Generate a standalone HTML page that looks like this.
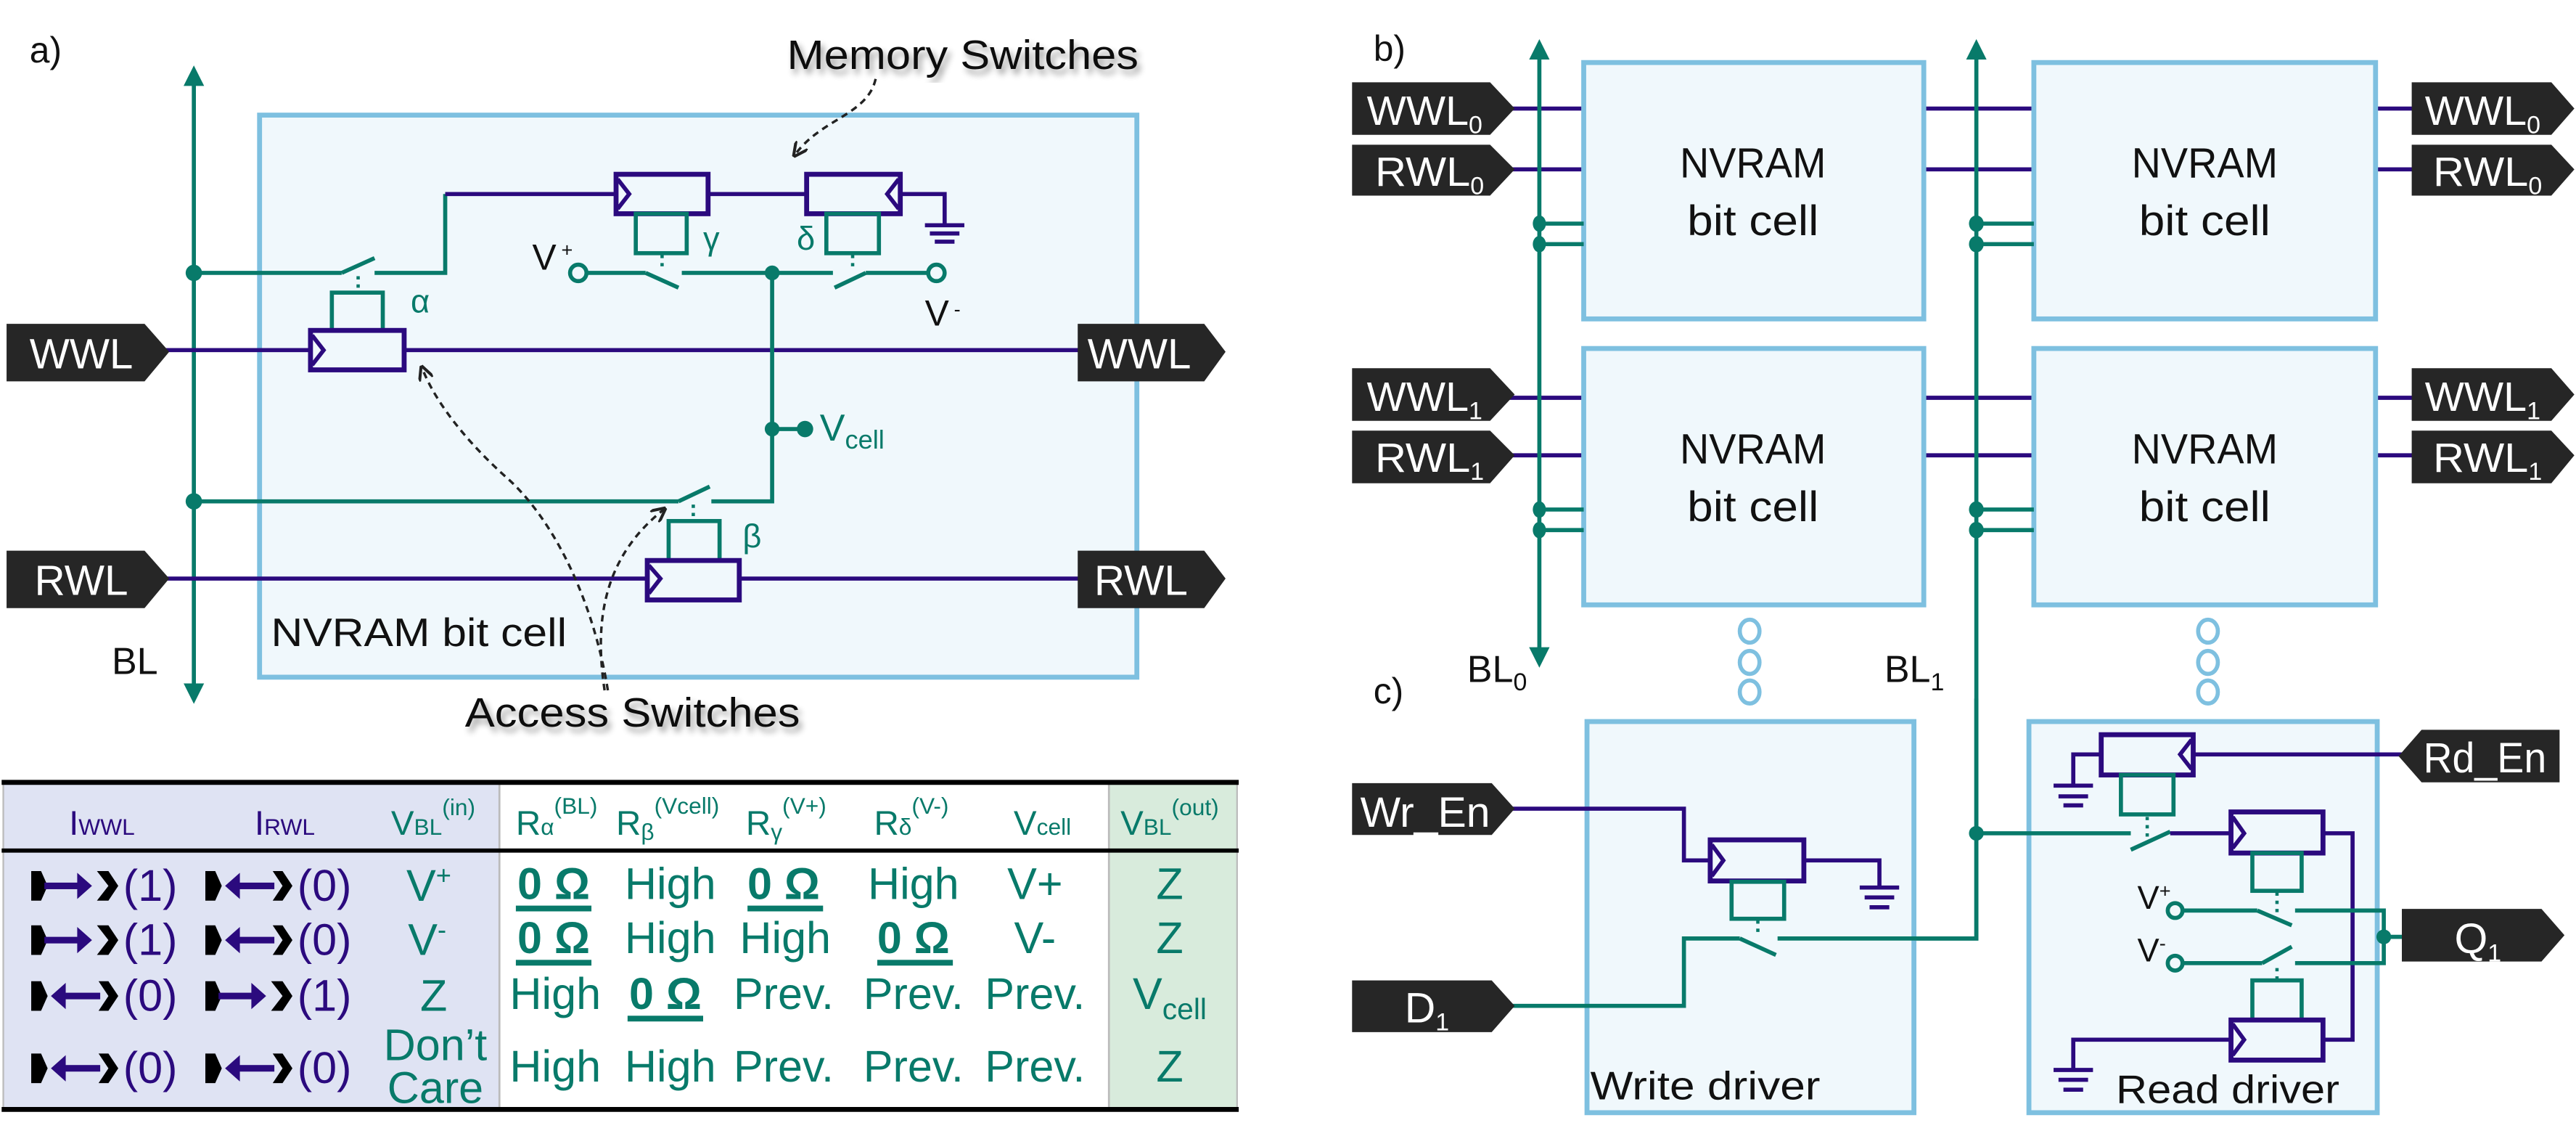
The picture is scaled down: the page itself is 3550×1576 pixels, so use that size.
<!DOCTYPE html>
<html><head><meta charset="utf-8"><style>
html,body{margin:0;padding:0;background:#fff;}
svg{display:block;}
text{font-family:"Liberation Sans Narrow","Liberation Sans",sans-serif;}
</style></head><body>
<svg width="3550" height="1576" viewBox="0 0 1568 696" xmlns="http://www.w3.org/2000/svg">
<defs>
<marker id="ta" viewBox="0 0 10 10" refX="5" refY="5" markerWidth="5" markerHeight="5" orient="auto-start-reverse"><path d="M0,0 L10,5 L0,10 z" fill="#087a6a"/></marker>
<marker id="da" viewBox="0 0 10 10" refX="8" refY="5" markerWidth="6" markerHeight="6" orient="auto"><path d="M0,0 L10,5 L0,10" fill="none" stroke="#222" stroke-width="2"/></marker>
<filter id="sh"><feGaussianBlur in="SourceAlpha" stdDeviation="2"/><feOffset dx="2" dy="3"/><feComponentTransfer><feFuncA type="linear" slope="0.4"/></feComponentTransfer><feMerge><feMergeNode/><feMergeNode in="SourceGraphic"/></feMerge></filter>
</defs>
<g fill="none" stroke-linecap="butt">

<!-- ============ PANEL A ============ -->
<text x="18" y="38" font-size="22" fill="#111" stroke="none">a)</text>
<rect x="158" y="70" width="534" height="342" fill="#f0f8fc" stroke="#7ec0e0" stroke-width="3"/>
<line x1="118" y1="46" x2="118" y2="422" stroke="#087a6a" stroke-width="2.5" marker-start="url(#ta)" marker-end="url(#ta)"/>
<text x="68" y="410" font-size="23" fill="#111" stroke="none">BL</text>
<line x1="100" y1="213" x2="660" y2="213" stroke="#2b0a7e" stroke-width="2.5"/>
<line x1="100" y1="352" x2="660" y2="352" stroke="#2b0a7e" stroke-width="2.5"/>
<polygon points="4,197 88,197 103,214 88,232 4,232" fill="#262626" stroke="none"/>
<text x="18" y="224" font-size="26" fill="#fff" stroke="none" textLength="63" lengthAdjust="spacingAndGlyphs">WWL</text>
<polygon points="656,197 733,197 746,214 733,232 656,232" fill="#262626" stroke="none"/>
<text x="662" y="224" font-size="26" fill="#fff" stroke="none" textLength="63" lengthAdjust="spacingAndGlyphs">WWL</text>
<polygon points="4,335 88,335 103,352 88,370 4,370" fill="#262626" stroke="none"/>
<text x="21" y="362" font-size="26" fill="#fff" stroke="none" textLength="57" lengthAdjust="spacingAndGlyphs">RWL</text>
<polygon points="656,335 733,335 746,352 733,370 656,370" fill="#262626" stroke="none"/>
<text x="666" y="362" font-size="26" fill="#fff" stroke="none" textLength="57" lengthAdjust="spacingAndGlyphs">RWL</text>

<line x1="118" y1="166" x2="208" y2="166" stroke="#087a6a" stroke-width="2.5"/>
<line x1="208" y1="166" x2="228" y2="157" stroke="#087a6a" stroke-width="2.5"/>
<polyline points="228,166 271,166 271,118" stroke="#087a6a" stroke-width="2.5"/>
<polyline points="271,118 375,118" stroke="#2b0a7e" stroke-width="2.5"/>
<line x1="218" y1="168" x2="218" y2="178" stroke="#087a6a" stroke-width="2" stroke-dasharray="2,3"/>
<rect x="202" y="178" width="31" height="23" stroke="#087a6a" stroke-width="2.5"/>
<text x="250" y="190" font-size="20" fill="#087a6a" stroke="none">α</text>
<rect x="189" y="201" width="57" height="24" fill="#f0f8fc" stroke="#2b0a7e" stroke-width="3"/>
<polyline points="190,204 197,213 190,222" stroke="#2b0a7e" stroke-width="2.5"/>
<circle cx="118" cy="166" r="5" fill="#087a6a" stroke="none"/>
<circle cx="118" cy="305" r="5" fill="#087a6a" stroke="none"/>

<line x1="431" y1="118" x2="491" y2="118" stroke="#2b0a7e" stroke-width="2.5"/>
<rect x="375" y="106" width="56" height="24" fill="#f0f8fc" stroke="#2b0a7e" stroke-width="3"/>
<polyline points="376,109 383,118 376,127" stroke="#2b0a7e" stroke-width="2.5"/>
<rect x="491" y="106" width="57" height="24" fill="#f0f8fc" stroke="#2b0a7e" stroke-width="3"/>
<polyline points="547,109 540,118 547,127" stroke="#2b0a7e" stroke-width="2.5"/>
<polyline points="548,118 575,118 575,137" stroke="#2b0a7e" stroke-width="2.5"/>
<line x1="563" y1="137" x2="587" y2="137" stroke="#2b0a7e" stroke-width="2.5"/>
<line x1="566" y1="142" x2="584" y2="142" stroke="#2b0a7e" stroke-width="2.5"/>
<line x1="569" y1="147" x2="581" y2="147" stroke="#2b0a7e" stroke-width="2.5"/>
<rect x="387" y="130" width="31" height="24" stroke="#087a6a" stroke-width="2.5"/>
<rect x="503" y="130" width="32" height="24" stroke="#087a6a" stroke-width="2.5"/>
<text x="428" y="152" font-size="20" fill="#087a6a" stroke="none">γ</text>
<text x="485" y="152" font-size="20" fill="#087a6a" stroke="none">δ</text>
<line x1="403" y1="155" x2="403" y2="165" stroke="#087a6a" stroke-width="2" stroke-dasharray="2,3"/>
<line x1="519" y1="155" x2="519" y2="165" stroke="#087a6a" stroke-width="2" stroke-dasharray="2,3"/>
<circle cx="352" cy="166" r="5" fill="#f0f8fc" stroke="#087a6a" stroke-width="2.5"/>
<line x1="357" y1="166" x2="393" y2="166" stroke="#087a6a" stroke-width="2.5"/>
<line x1="393" y1="166" x2="413" y2="175" stroke="#087a6a" stroke-width="2.5"/>
<line x1="415" y1="166" x2="507" y2="166" stroke="#087a6a" stroke-width="2.5"/>
<line x1="508" y1="175" x2="527" y2="166" stroke="#087a6a" stroke-width="2.5"/>
<line x1="527" y1="166" x2="565" y2="166" stroke="#087a6a" stroke-width="2.5"/>
<circle cx="570" cy="166" r="5" fill="#f0f8fc" stroke="#087a6a" stroke-width="2.5"/>
<text x="324" y="164" font-size="22" fill="#111" stroke="none">V<tspan font-size="12" dx="3" dy="-8">+</tspan></text>
<text x="563" y="198" font-size="22" fill="#111" stroke="none">V<tspan font-size="12" dx="3" dy="-6">-</tspan></text>
<circle cx="470" cy="166" r="4.5" fill="#087a6a" stroke="none"/>
<polyline points="470,166 470,305 433,305" stroke="#087a6a" stroke-width="2.5"/>
<circle cx="470" cy="261" r="4.5" fill="#087a6a" stroke="none"/>
<line x1="470" y1="261" x2="489" y2="261" stroke="#087a6a" stroke-width="2.5"/>
<circle cx="490" cy="261" r="5" fill="#087a6a" stroke="none"/>
<text x="499" y="268" font-size="23" fill="#087a6a" stroke="none">V<tspan font-size="16" dy="5">cell</tspan></text>
<line x1="118" y1="305" x2="413" y2="305" stroke="#087a6a" stroke-width="2.5"/>
<line x1="413" y1="305" x2="432" y2="296" stroke="#087a6a" stroke-width="2.5"/>
<line x1="422" y1="307" x2="422" y2="317" stroke="#087a6a" stroke-width="2" stroke-dasharray="2,3"/>
<rect x="407" y="317" width="31" height="24" stroke="#087a6a" stroke-width="2.5"/>
<text x="452" y="333" font-size="20" fill="#087a6a" stroke="none">β</text>
<rect x="394" y="341" width="56" height="24" fill="#f0f8fc" stroke="#2b0a7e" stroke-width="3"/>
<polyline points="395,344 402,352 395,361" stroke="#2b0a7e" stroke-width="2.5"/>
<text x="165" y="393" font-size="24" fill="#111" stroke="none" textLength="180" lengthAdjust="spacingAndGlyphs">NVRAM bit cell</text>
<text x="479" y="42" font-size="25" fill="#111" stroke="none" filter="url(#sh)" textLength="214" lengthAdjust="spacingAndGlyphs">Memory Switches</text>
<path d="M533,48 C528,70 500,72 484,94" stroke="#222" stroke-width="1.5" stroke-dasharray="4,3" marker-end="url(#da)"/>
<text x="283" y="442" font-size="25" fill="#111" stroke="none" filter="url(#sh)" textLength="204" lengthAdjust="spacingAndGlyphs">Access Switches</text>
<path d="M370,420 C362,370 340,320 310,292 C285,270 265,245 257,224" stroke="#222" stroke-width="1.5" stroke-dasharray="4,3" marker-end="url(#da)"/>
<path d="M368,420 C362,380 366,340 404,310" stroke="#222" stroke-width="1.5" stroke-dasharray="4,3" marker-end="url(#da)"/>

<!-- ============ TABLE ============ -->
<rect x="2" y="476" width="302" height="199" fill="#dfe3f3" stroke="none"/>
<rect x="675" y="476" width="78" height="199" fill="#d8ebdc" stroke="none"/>
<line x1="304" y1="476" x2="304" y2="675" stroke="#bbb" stroke-width="1.2"/>
<line x1="675" y1="476" x2="675" y2="675" stroke="#bbb" stroke-width="1.2"/>
<line x1="2" y1="476" x2="2" y2="675" stroke="#bbb" stroke-width="1"/>
<line x1="753" y1="476" x2="753" y2="675" stroke="#bbb" stroke-width="1"/>
<line x1="1" y1="476" x2="754" y2="476" stroke="#000" stroke-width="3"/>
<line x1="1" y1="517.5" x2="754" y2="517.5" stroke="#000" stroke-width="2.5"/>
<line x1="1" y1="675" x2="754" y2="675" stroke="#000" stroke-width="3"/>
<g stroke="none" font-size="21">
<text x="42" y="508" fill="#2b0a7e">I<tspan font-size="14">WWL</tspan></text>
<text x="155" y="508" fill="#2b0a7e">I<tspan font-size="14">RWL</tspan></text>
<text x="238" y="508" fill="#087a6a">V<tspan font-size="14">BL</tspan><tspan font-size="14" dy="-12">(in)</tspan></text>
<text x="314" y="508" fill="#087a6a">R<tspan font-size="14">α</tspan><tspan font-size="14" dy="-13">(BL)</tspan></text>
<text x="375" y="508" fill="#087a6a">R<tspan font-size="14" dy="3">β</tspan><tspan font-size="14" dy="-16">(Vcell)</tspan></text>
<text x="454" y="508" fill="#087a6a">R<tspan font-size="14" dy="3">γ</tspan><tspan font-size="14" dy="-16">(V+)</tspan></text>
<text x="532" y="508" fill="#087a6a">R<tspan font-size="14">δ</tspan><tspan font-size="14" dy="-13">(V-)</tspan></text>
<text x="617" y="508" fill="#087a6a">V<tspan font-size="14">cell</tspan></text>
<text x="682" y="508" fill="#087a6a">V<tspan font-size="14">BL</tspan><tspan font-size="14" dy="-12">(out)</tspan></text>
</g>
<g stroke="none">
<g id="ar">
<polygon points="19,530 25,530 29,539 25,548 19,548" fill="#000"/>
<rect x="27" y="537" width="22" height="4" fill="#2b0a7e"/>
<polygon points="47,531 56,539 47,547" fill="#2b0a7e"/>
<polygon points="59,530 66,539 59,548 66,548 72,539 66,530" fill="#000"/>
</g>
<g id="al">
<polygon points="125,530 131,530 135,539 131,548 125,548" fill="#000"/>
<polygon points="137,539 146,531 146,547" fill="#2b0a7e"/>
<rect x="145" y="537" width="22" height="4" fill="#2b0a7e"/>
<polygon points="166,530 172,539 166,548 172,548 178,539 172,530" fill="#000"/>
</g>
<use href="#ar" y="33"/><use href="#al" y="33"/>
<use href="#al" x="-106" y="67"/><use href="#ar" x="106" y="67"/>
<use href="#al" x="-106" y="111"/><use href="#al" y="111"/>
</g>
<g stroke="none" font-size="27" fill="#2b0a7e">
<text x="75" y="548">(1)</text><text x="181" y="548">(0)</text>
<text x="75" y="581">(1)</text><text x="181" y="581">(0)</text>
<text x="75" y="615">(0)</text><text x="181" y="615">(1)</text>
<text x="75" y="659">(0)</text><text x="181" y="659">(0)</text>
</g>
<g stroke="none" font-size="27" fill="#087a6a" text-anchor="middle">
<text x="261" y="548">V<tspan font-size="16" dy="-10">+</tspan></text>
<text x="260" y="581">V<tspan font-size="16" dy="-10">-</tspan></text>
<text x="264" y="615">Z</text>
<text x="265" y="645">Don’t</text>
<text x="265" y="671">Care</text>
<g font-weight="bold">
<text x="337" y="547">0 Ω</text><text x="477" y="547">0 Ω</text>
<text x="337" y="580">0 Ω</text><text x="556" y="580">0 Ω</text>
<text x="405" y="614">0 Ω</text>
</g>
<text x="408" y="547">High</text><text x="556" y="547">High</text><text x="630" y="547">V+</text><text x="712" y="547">Z</text>
<text x="408" y="580">High</text><text x="478" y="580">High</text><text x="630" y="580">V-</text><text x="712" y="580">Z</text>
<text x="338" y="614">High</text><text x="477" y="614">Prev.</text><text x="556" y="614">Prev.</text><text x="630" y="614">Prev.</text>
<text x="712" y="614">V<tspan font-size="18" dy="6">cell</tspan></text>
<text x="338" y="658">High</text><text x="408" y="658">High</text><text x="477" y="658">Prev.</text><text x="556" y="658">Prev.</text><text x="630" y="658">Prev.</text><text x="712" y="658">Z</text>
</g>
<g fill="#087a6a" stroke="none">
<rect x="314" y="551" width="46" height="3.5"/><rect x="455" y="551" width="46" height="3.5"/>
<rect x="314" y="584" width="46" height="3.5"/><rect x="534" y="584" width="46" height="3.5"/>
<rect x="382" y="618" width="46" height="3.5"/>
</g>

<!-- ============ PANEL B ============ -->
<text x="836" y="37" font-size="22" fill="#111" stroke="none">b)</text>
<g stroke="#2b0a7e" stroke-width="2.5">
<line x1="918" y1="66" x2="1470" y2="66"/><line x1="918" y1="103" x2="1470" y2="103"/>
<line x1="918" y1="242" x2="1470" y2="242"/><line x1="918" y1="277" x2="1470" y2="277"/>
</g>
<g fill="#f0f8fc" stroke="#7ec0e0" stroke-width="3">
<rect x="964" y="38" width="207" height="156"/><rect x="1238" y="38" width="208" height="156"/>
<rect x="964" y="212" width="207" height="156"/><rect x="1238" y="212" width="208" height="156"/>
</g>
<line x1="937" y1="30" x2="937" y2="400" stroke="#087a6a" stroke-width="2.5" marker-start="url(#ta)" marker-end="url(#ta)"/>
<polyline points="1203,30 1203,571 1082,571" stroke="#087a6a" stroke-width="2.5" marker-start="url(#ta)"/>
<g stroke="#087a6a" stroke-width="2.5">
<line x1="937" y1="136" x2="964" y2="136"/><line x1="937" y1="148.5" x2="964" y2="148.5"/>
<line x1="937" y1="310" x2="964" y2="310"/><line x1="937" y1="322.5" x2="964" y2="322.5"/>
<line x1="1203" y1="136" x2="1238" y2="136"/><line x1="1203" y1="148.5" x2="1238" y2="148.5"/>
<line x1="1203" y1="310" x2="1238" y2="310"/><line x1="1203" y1="322.5" x2="1238" y2="322.5"/>
</g>
<g fill="#087a6a" stroke="none">
<ellipse cx="937" cy="136" rx="4" ry="5"/><ellipse cx="937" cy="148.5" rx="4" ry="5"/>
<ellipse cx="937" cy="310" rx="4" ry="5"/><ellipse cx="937" cy="322.5" rx="4" ry="5"/>
<ellipse cx="1203" cy="136" rx="4.5" ry="5"/><ellipse cx="1203" cy="148.5" rx="4.5" ry="5"/>
<ellipse cx="1203" cy="310" rx="4.5" ry="5"/><ellipse cx="1203" cy="322.5" rx="4.5" ry="5"/>
</g>
<g stroke="none" font-size="26" fill="#111" text-anchor="middle">
<text x="1067" y="108" textLength="89" lengthAdjust="spacingAndGlyphs">NVRAM</text><text x="1067" y="143" textLength="80" lengthAdjust="spacingAndGlyphs">bit cell</text>
<text x="1342" y="108" textLength="89" lengthAdjust="spacingAndGlyphs">NVRAM</text><text x="1342" y="143" textLength="80" lengthAdjust="spacingAndGlyphs">bit cell</text>
<text x="1067" y="282" textLength="89" lengthAdjust="spacingAndGlyphs">NVRAM</text><text x="1067" y="317" textLength="80" lengthAdjust="spacingAndGlyphs">bit cell</text>
<text x="1342" y="282" textLength="89" lengthAdjust="spacingAndGlyphs">NVRAM</text><text x="1342" y="317" textLength="80" lengthAdjust="spacingAndGlyphs">bit cell</text>
</g>
<g stroke="none" fill="#262626">
<polygon points="823,50 907,50 922,66 907,82 823,82"/>
<polygon points="823,88 907,88 922,103 907,119 823,119"/>
<polygon points="823,224 907,224 922,240 907,256 823,256"/>
<polygon points="823,262 907,262 922,277 907,294 823,294"/>
<polygon points="1468,50 1553,50 1567,66 1553,82 1468,82"/>
<polygon points="1468,88 1553,88 1567,103 1553,119 1468,119"/>
<polygon points="1468,224 1553,224 1567,240 1553,256 1468,256"/>
<polygon points="1468,262 1553,262 1567,277 1553,294 1468,294"/>
</g>
<g stroke="none" fill="#fff" font-size="25">
<text x="832" y="76"><tspan textLength="62" lengthAdjust="spacingAndGlyphs">WWL</tspan><tspan font-size="15" dy="5">0</tspan></text>
<text x="837" y="113"><tspan textLength="58" lengthAdjust="spacingAndGlyphs">RWL</tspan><tspan font-size="15" dy="5">0</tspan></text>
<text x="832" y="250"><tspan textLength="62" lengthAdjust="spacingAndGlyphs">WWL</tspan><tspan font-size="15" dy="5">1</tspan></text>
<text x="837" y="287"><tspan textLength="58" lengthAdjust="spacingAndGlyphs">RWL</tspan><tspan font-size="15" dy="5">1</tspan></text>
<text x="1476" y="76"><tspan textLength="62" lengthAdjust="spacingAndGlyphs">WWL</tspan><tspan font-size="15" dy="5">0</tspan></text>
<text x="1481" y="113"><tspan textLength="58" lengthAdjust="spacingAndGlyphs">RWL</tspan><tspan font-size="15" dy="5">0</tspan></text>
<text x="1476" y="250"><tspan textLength="62" lengthAdjust="spacingAndGlyphs">WWL</tspan><tspan font-size="15" dy="5">1</tspan></text>
<text x="1481" y="287"><tspan textLength="58" lengthAdjust="spacingAndGlyphs">RWL</tspan><tspan font-size="15" dy="5">1</tspan></text>
</g>
<g stroke="#7ec0e0" stroke-width="2.5" fill="none">
<ellipse cx="1065" cy="384" rx="6" ry="7"/><ellipse cx="1065" cy="403" rx="6" ry="7"/><ellipse cx="1065" cy="421" rx="6" ry="7"/>
<ellipse cx="1344" cy="384" rx="6" ry="7"/><ellipse cx="1344" cy="403" rx="6" ry="7"/><ellipse cx="1344" cy="421" rx="6" ry="7"/>
</g>
<text x="893" y="415" font-size="23" fill="#111" stroke="none">BL<tspan font-size="15" dy="5">0</tspan></text>
<text x="1147" y="415" font-size="23" fill="#111" stroke="none">BL<tspan font-size="15" dy="5">1</tspan></text>

<!-- ============ PANEL C ============ -->
<text x="836" y="428" font-size="22" fill="#111" stroke="none">c)</text>
<rect x="966" y="439" width="199" height="238" fill="#f0f8fc" stroke="#7ec0e0" stroke-width="3"/>
<rect x="1235" y="439" width="212" height="238" fill="#f0f8fc" stroke="#7ec0e0" stroke-width="3"/>
<polyline points="1203,425 1203,571 1082,571" stroke="#087a6a" stroke-width="2.5"/>
<polyline points="918,492 1025,492 1025,523.5 1041,523.5" stroke="#2b0a7e" stroke-width="2.5"/>
<polyline points="1098,523.5 1144,523.5 1144,540" stroke="#2b0a7e" stroke-width="2.5"/>
<line x1="1132" y1="540" x2="1156" y2="540" stroke="#2b0a7e" stroke-width="2.5"/>
<line x1="1135" y1="546" x2="1153" y2="546" stroke="#2b0a7e" stroke-width="2.5"/>
<line x1="1138" y1="552" x2="1150" y2="552" stroke="#2b0a7e" stroke-width="2.5"/>
<rect x="1041" y="511" width="57" height="25" fill="#f0f8fc" stroke="#2b0a7e" stroke-width="3"/>
<polyline points="1042,514 1049,523.5 1042,533" stroke="#2b0a7e" stroke-width="2.5"/>
<rect x="1054" y="536.5" width="32" height="22.5" stroke="#087a6a" stroke-width="2.5"/>
<line x1="1070" y1="560" x2="1070" y2="570" stroke="#087a6a" stroke-width="2" stroke-dasharray="2,3"/>
<polyline points="918,612 1025,612 1025,571 1059,571" stroke="#087a6a" stroke-width="2.5"/>
<line x1="1059" y1="571" x2="1081" y2="581" stroke="#087a6a" stroke-width="2.5"/>
<polygon points="823,476.5 908,476.5 922,492 908,508 823,508" fill="#262626" stroke="none"/>
<text x="828" y="503" font-size="26" fill="#fff" stroke="none" textLength="79" lengthAdjust="spacingAndGlyphs">Wr_En</text>
<polygon points="823,596.5 908,596.5 922,612 908,628 823,628" fill="#262626" stroke="none"/>
<text x="855" y="622" font-size="26" fill="#fff" stroke="none">D<tspan font-size="15" dy="5">1</tspan></text>
<text x="968" y="669" font-size="24" fill="#111" stroke="none" textLength="140" lengthAdjust="spacingAndGlyphs">Write driver</text>
<circle cx="1203" cy="507" r="4.5" fill="#087a6a" stroke="none"/>
<line x1="1203" y1="507" x2="1297" y2="507" stroke="#087a6a" stroke-width="2.5"/>
<line x1="1297" y1="517" x2="1321" y2="506" stroke="#087a6a" stroke-width="2.5"/>
<line x1="1321" y1="507" x2="1358" y2="507" stroke="#2b0a7e" stroke-width="2.5"/>
<line x1="1335" y1="459" x2="1462" y2="459" stroke="#2b0a7e" stroke-width="2.5"/>
<polyline points="1279,459 1262,459 1262,478" stroke="#2b0a7e" stroke-width="2.5"/>
<line x1="1250" y1="478" x2="1274" y2="478" stroke="#2b0a7e" stroke-width="2.5"/>
<line x1="1253" y1="484.5" x2="1271" y2="484.5" stroke="#2b0a7e" stroke-width="2.5"/>
<line x1="1256" y1="490" x2="1268" y2="490" stroke="#2b0a7e" stroke-width="2.5"/>
<rect x="1279" y="447" width="56" height="24.5" fill="#f0f8fc" stroke="#2b0a7e" stroke-width="3"/>
<polyline points="1334,450 1327,459 1334,468" stroke="#2b0a7e" stroke-width="2.5"/>
<rect x="1291" y="471.5" width="32" height="24" stroke="#087a6a" stroke-width="2.5"/>
<line x1="1307" y1="497" x2="1307" y2="510" stroke="#087a6a" stroke-width="2" stroke-dasharray="2,3"/>
<polygon points="1474,444 1558,444 1558,476 1474,476 1460,460" fill="#262626" stroke="none"/>
<text x="1475" y="470" font-size="26" fill="#fff" stroke="none" textLength="75" lengthAdjust="spacingAndGlyphs">Rd_En</text>
<polyline points="1414,507 1432,507 1432,632.6 1414,632.6" stroke="#2b0a7e" stroke-width="2.5"/>
<rect x="1358" y="494" width="56" height="25" fill="#f0f8fc" stroke="#2b0a7e" stroke-width="3"/>
<polyline points="1359,497 1366,507 1359,516" stroke="#2b0a7e" stroke-width="2.5"/>
<rect x="1371" y="519" width="30" height="23" stroke="#087a6a" stroke-width="2.5"/>
<line x1="1386" y1="543" x2="1386" y2="555" stroke="#087a6a" stroke-width="2" stroke-dasharray="2,3"/>
<circle cx="1324" cy="554" r="4.5" fill="#f0f8fc" stroke="#087a6a" stroke-width="2.5"/>
<line x1="1328" y1="554" x2="1374" y2="554" stroke="#087a6a" stroke-width="2.5"/>
<line x1="1374" y1="554" x2="1395" y2="563" stroke="#087a6a" stroke-width="2.5"/>
<polyline points="1397,554 1451,554 1451,586 1397,586" stroke="#087a6a" stroke-width="2.5"/>
<circle cx="1324" cy="586" r="4.5" fill="#f0f8fc" stroke="#087a6a" stroke-width="2.5"/>
<line x1="1328" y1="586" x2="1377" y2="586" stroke="#087a6a" stroke-width="2.5"/>
<line x1="1377" y1="586" x2="1395" y2="576" stroke="#087a6a" stroke-width="2.5"/>
<line x1="1386" y1="589" x2="1386" y2="596" stroke="#087a6a" stroke-width="2" stroke-dasharray="2,3"/>
<circle cx="1451" cy="570" r="4.5" fill="#087a6a" stroke="none"/>
<line x1="1451" y1="570" x2="1463" y2="570" stroke="#087a6a" stroke-width="2.5"/>
<text x="1301" y="553" font-size="20" fill="#111" stroke="none">V<tspan font-size="12" dy="-7">+</tspan></text>
<text x="1301" y="585" font-size="20" fill="#111" stroke="none">V<tspan font-size="12" dy="-7">-</tspan></text>
<polygon points="1462,553 1547,553 1561,569 1547,585 1462,585" fill="#262626" stroke="none"/>
<text x="1494" y="580" font-size="26" fill="#fff" stroke="none">Q<tspan font-size="15" dy="5">1</tspan></text>
<rect x="1371" y="596.5" width="30" height="24" stroke="#087a6a" stroke-width="2.5"/>
<polyline points="1358,632.6 1262,632.6 1262,651" stroke="#2b0a7e" stroke-width="2.5"/>
<line x1="1250" y1="651" x2="1274" y2="651" stroke="#2b0a7e" stroke-width="2.5"/>
<line x1="1253" y1="657" x2="1271" y2="657" stroke="#2b0a7e" stroke-width="2.5"/>
<line x1="1256" y1="663" x2="1268" y2="663" stroke="#2b0a7e" stroke-width="2.5"/>
<rect x="1358" y="620.6" width="56" height="24.4" fill="#f0f8fc" stroke="#2b0a7e" stroke-width="3"/>
<polyline points="1359,623 1366,632.6 1359,642" stroke="#2b0a7e" stroke-width="2.5"/>
<text x="1288" y="671" font-size="24" fill="#111" stroke="none" textLength="136" lengthAdjust="spacingAndGlyphs">Read driver</text>
</g>
</svg>
</body></html>
